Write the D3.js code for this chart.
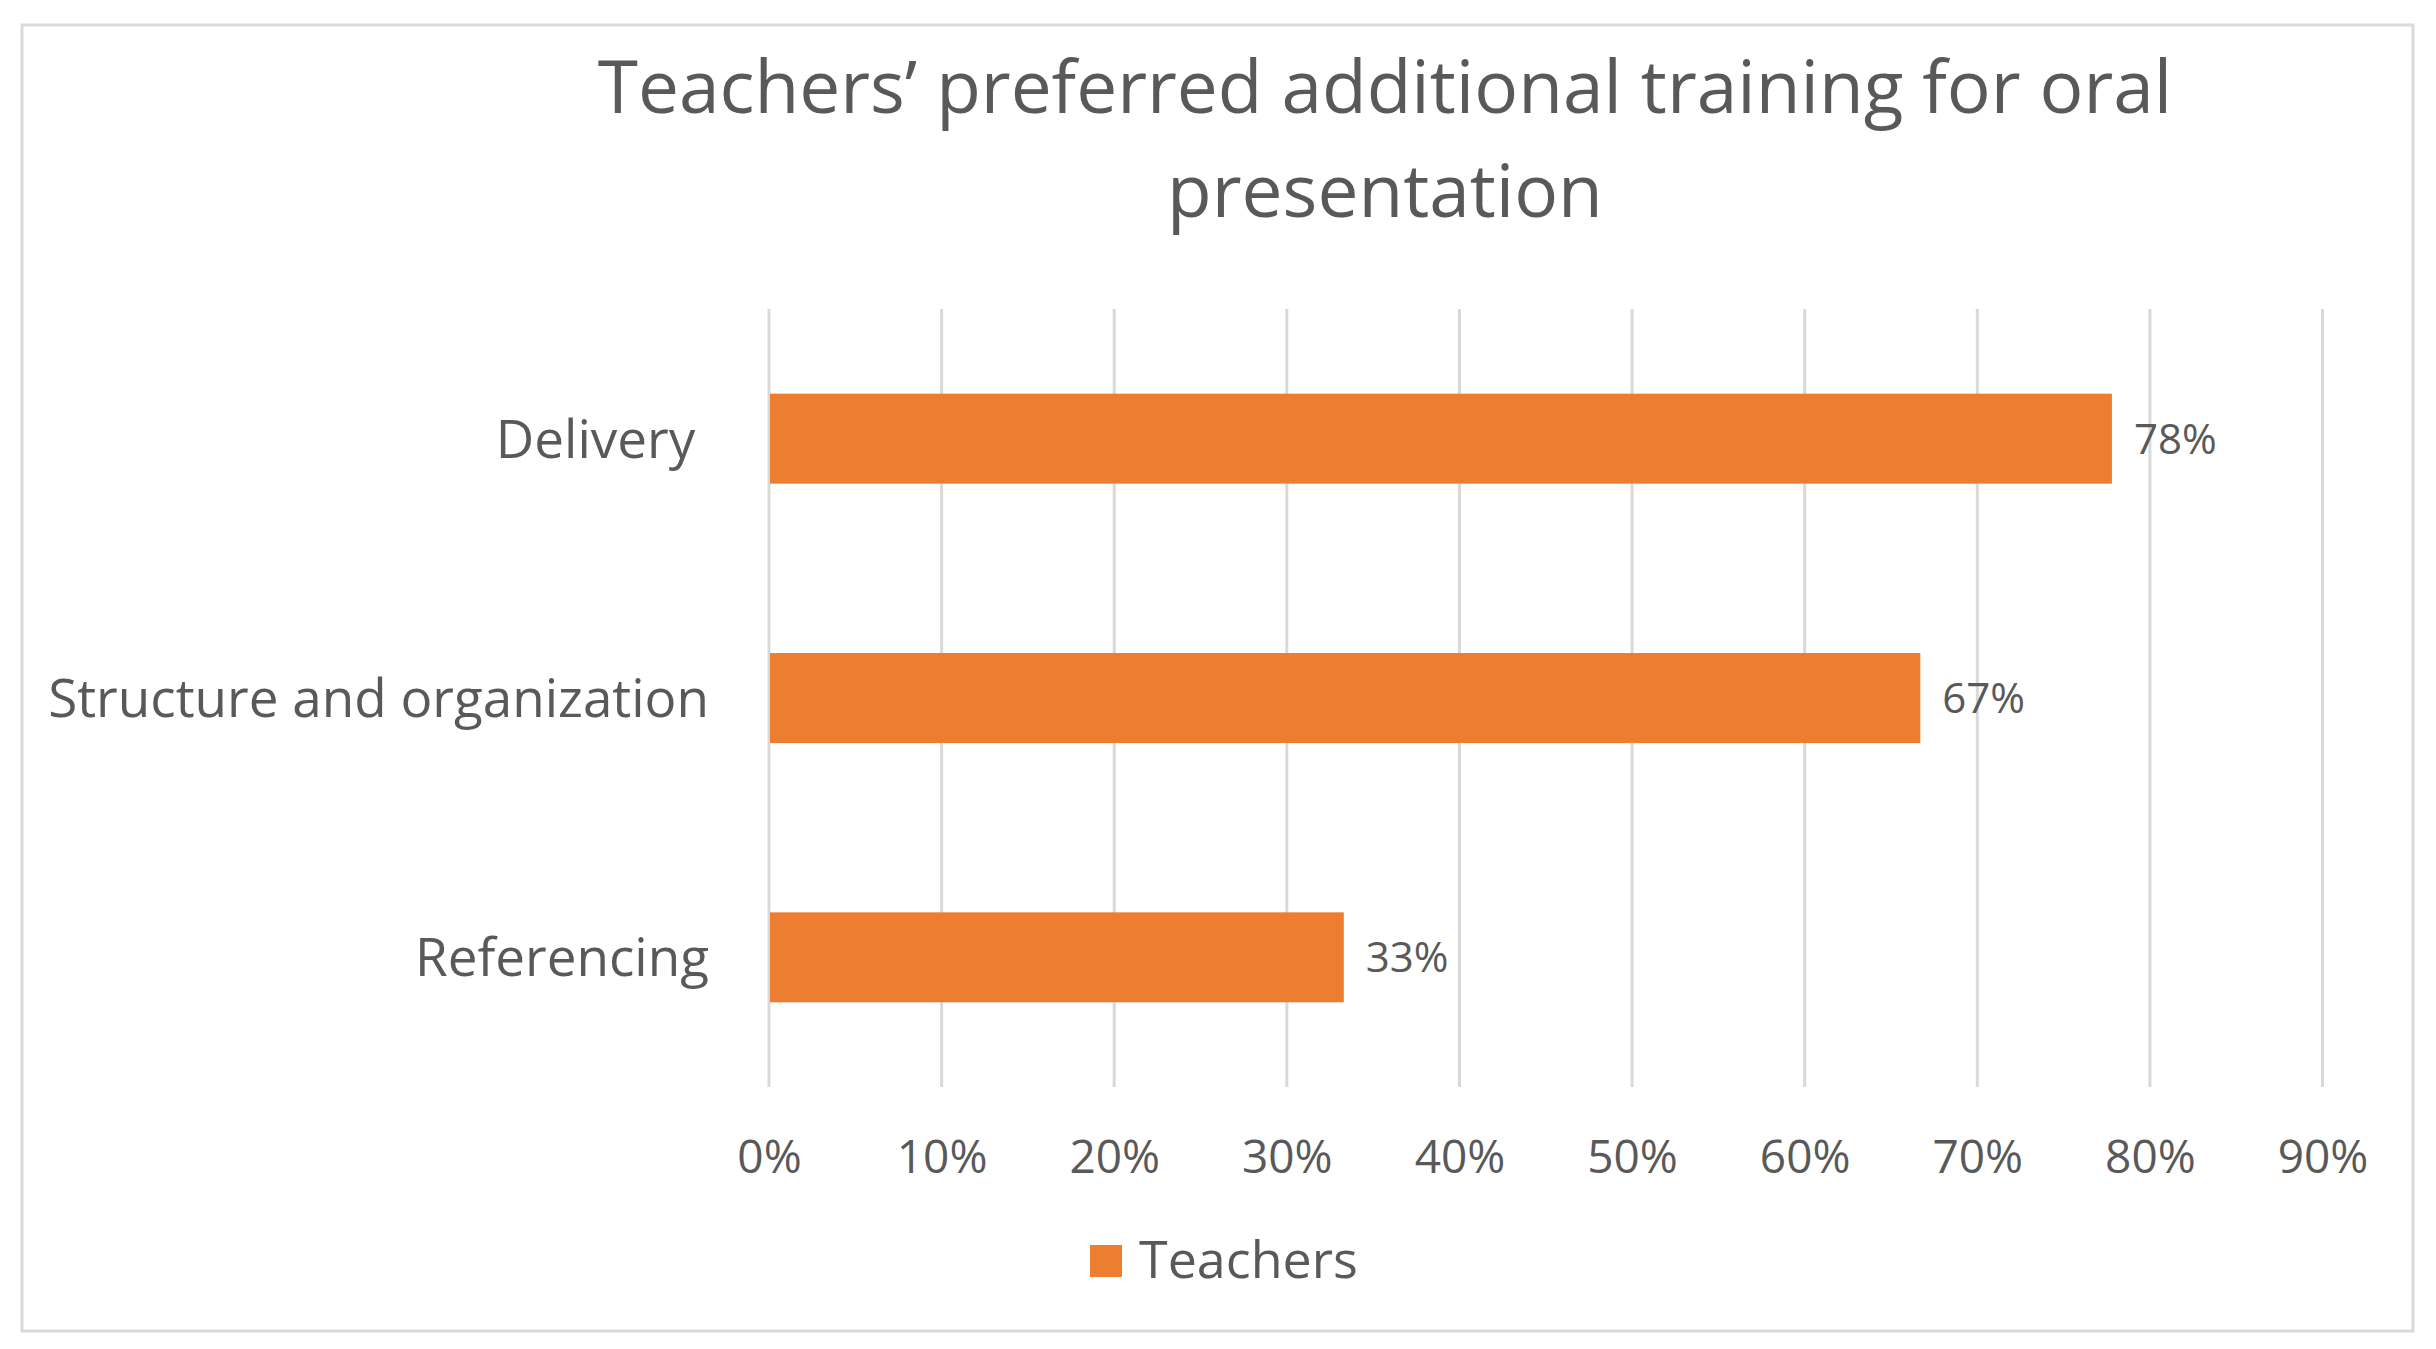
<!DOCTYPE html>
<html>
<head>
<meta charset="utf-8">
<script src="https://cdn.jsdelivr.net/npm/d3@7"></script>
<style>
  html, body { margin: 0; padding: 0; background: #fff; }
  svg text { font-family: "Open Sans", "Noto Sans", sans-serif; fill: #595959; }
</style>
</head>
<body>
<svg id="chart" width="2436" height="1349"></svg>
<script>
const titleLines = ["Teachers\u2019 preferred additional training for oral", "presentation"];
const categories = ["Delivery ", "Structure and organization", "Referencing"];
const teachers = [0.778, 0.667, 0.333];
const valueLabels = ["78%", "67%", "33%"];
const tickValues = [0, 0.1, 0.2, 0.3, 0.4, 0.5, 0.6, 0.7, 0.8, 0.9];
const seriesName = "Teachers";

const svg = d3.select("#chart");
const W = 2436, H = 1349;
const barColor = "#ED7D31";
const gridColor = "#d9d9d9";

svg.append("rect").attr("x", 0).attr("y", 0).attr("width", W).attr("height", H).attr("fill", "#fff");
svg.append("rect")
  .attr("x", 22).attr("y", 25).attr("width", 2391).attr("height", 1306)
  .attr("fill", "#fff").attr("stroke", gridColor).attr("stroke-width", 3);

const plot = { left: 769, right: 2322.5, top: 309, bottom: 1087 };

const x = d3.scaleLinear().domain([0, 0.9]).range([plot.left, plot.right]);
const y = d3.scaleBand().domain(categories).range([plot.top, plot.bottom])
  .paddingInner(0.653).paddingOuter(0.3265);

// Title
svg.append("g").selectAll("text").data(titleLines).join("text")
  .attr("x", 1385).attr("y", (d, i) => 113 + i * 104)
  .attr("text-anchor", "middle")
  .style("font-size", "73px")
  .text(d => d);

// Gridlines
svg.append("g").selectAll("line").data(tickValues).join("line")
  .attr("x1", d => x(d)).attr("x2", d => x(d))
  .attr("y1", plot.top).attr("y2", plot.bottom)
  .attr("stroke", gridColor).attr("stroke-width", 3);

// X axis via d3.axisBottom
const xAxis = d3.axisBottom(x).tickValues(tickValues).tickFormat(d3.format(".0%")).tickSize(0).tickPadding(0);
const gx = svg.append("g").attr("transform", `translate(0, ${1173})`).call(xAxis);
gx.select(".domain").remove();
gx.selectAll("text").attr("dy", 0).attr("y", 0)
  .style("font-size", "46px").style("font-family", "\"Open Sans\", sans-serif").attr("fill", "#595959");

// Y axis labels
const yAxis = d3.axisLeft(y).tickSize(0).tickPadding(0);
const gy = svg.append("g").attr("transform", `translate(709, 0)`).call(yAxis);
gy.select(".domain").remove();
gy.selectAll("text").attr("dy", "0.36em").attr("x", 0)
  .style("font-size", "53px").style("font-family", "\"Open Sans\", sans-serif")
  .style("white-space", "pre").attr("fill", "#595959");

// Bars
svg.append("g").selectAll("rect").data(categories).join("rect")
  .attr("x", x(0) + 1)
  .attr("y", d => y(d))
  .attr("width", (d, i) => x(teachers[i]) - x(0) - 1)
  .attr("height", y.bandwidth())
  .attr("fill", barColor);

// Value labels
svg.append("g").selectAll("text").data(categories).join("text")
  .attr("x", (d, i) => x(teachers[i]) + 22)
  .attr("y", d => y(d) + y.bandwidth() / 2)
  .attr("dy", "0.36em")
  .style("font-size", "42px")
  .text((d, i) => valueLabels[i]);

// Legend
const lg = svg.append("g");
lg.append("rect").attr("x", 1090).attr("y", 1245).attr("width", 32).attr("height", 32).attr("fill", barColor);
lg.append("text").attr("x", 1139).attr("y", 1278).style("font-size", "52px").text(seriesName);
</script>
</body>
</html>
